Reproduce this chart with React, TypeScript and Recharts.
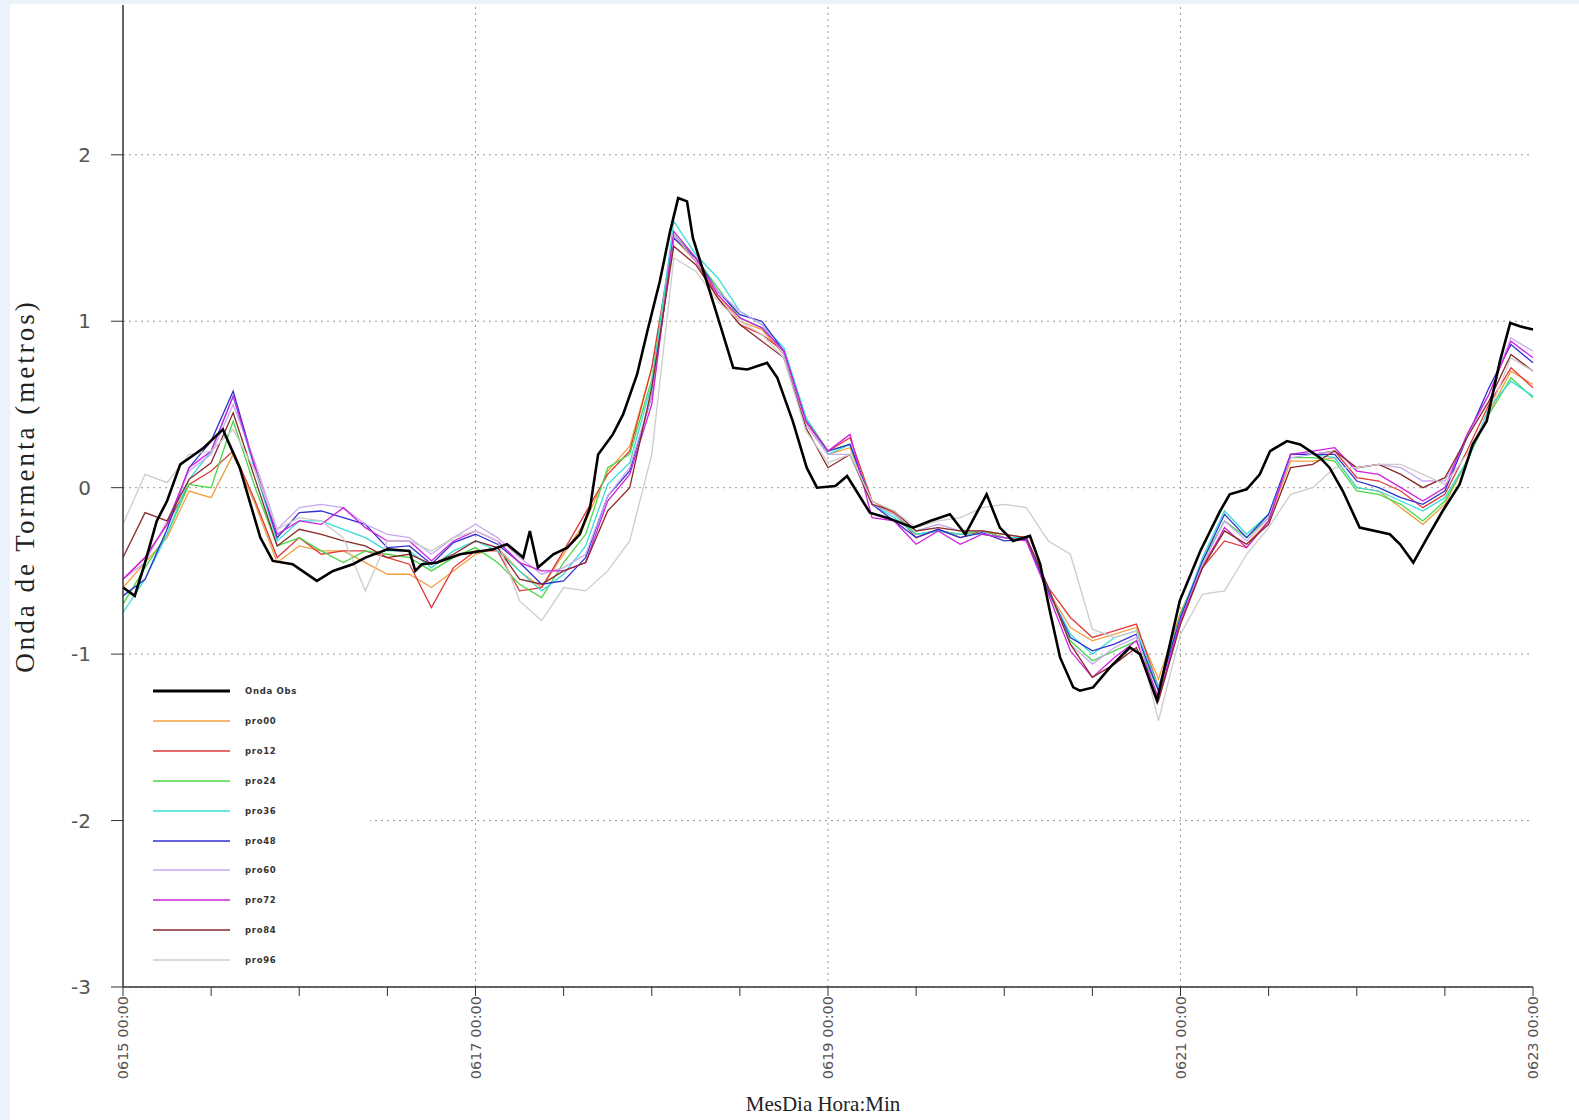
import { LineChart, Line, XAxis, YAxis, CartesianGrid, ReferenceLine } from 'recharts'

// hours since 0615 00:00
const hours = [
  0, 3, 6, 9, 12, 15, 18, 21, 24, 27, 30, 33, 36, 39, 42, 45, 48, 51, 54, 57, 60, 63, 66, 69, 72,
  75, 78, 81, 84, 87, 90, 93, 96, 99, 102, 105, 108, 111, 114, 117, 120, 123, 126, 129, 132, 135,
  138, 141, 144, 147, 150, 153, 156, 159, 162, 165, 168, 171, 174, 177, 180, 183, 186, 189, 192,
]

// [hora, metros]
const ondaObs: [number, number][] = [
  [0, -0.6], [1.6, -0.65], [3, -0.45], [4.6, -0.2], [6, -0.08], [7.8, 0.14], [9.1, 0.18], [11, 0.24],
  [13.6, 0.35], [15.9, 0.12], [18.7, -0.3], [20.4, -0.44], [23.1, -0.46], [26.4, -0.56], [28.6, -0.5],
  [31.3, -0.46], [33, -0.42], [36, -0.37], [39, -0.38], [39.8, -0.5], [40.7, -0.46], [42.8, -0.45],
  [45.9, -0.4], [50.4, -0.37], [52.3, -0.34], [54.5, -0.42], [55.4, -0.26], [56.5, -0.48], [58.6, -0.4],
  [60.5, -0.36], [62.2, -0.28], [63.6, -0.12], [64.7, 0.2], [66.7, 0.32], [68.1, 0.44], [70, 0.68],
  [71.4, 0.94], [73.1, 1.24], [74.5, 1.54], [75.6, 1.74], [76.8, 1.72], [77.6, 1.5], [79.9, 1.18],
  [81.3, 0.98], [83.1, 0.72], [85, 0.71], [87.7, 0.75], [89.1, 0.66], [91.2, 0.4], [93.1, 0.12],
  [94.5, 0.0], [97, 0.01], [98.6, 0.07], [101.7, -0.15], [104, -0.18], [107.6, -0.24], [109.9, -0.2],
  [112.6, -0.16], [114.7, -0.28], [117.6, -0.04], [119.4, -0.24], [121.2, -0.32], [123.5, -0.29],
  [124.9, -0.46], [126.2, -0.74], [127.6, -1.02], [129.4, -1.2], [130.3, -1.22], [132.1, -1.2],
  [134.4, -1.08], [137.1, -0.96], [138.5, -1.0], [140.8, -1.28], [143.9, -0.68], [146.7, -0.38],
  [149.4, -0.14], [150.7, -0.04], [153, -0.01], [154.8, 0.08], [156.2, 0.22], [158.5, 0.28],
  [160.3, 0.26], [163, 0.18], [164.3, 0.12], [166.1, -0.02], [168.4, -0.24], [172.5, -0.28],
  [173.9, -0.34], [175.7, -0.45], [177.6, -0.3], [179.7, -0.14], [182, 0.02], [183.8, 0.26],
  [185.7, 0.4], [187.5, 0.76], [188.9, 0.99], [190.2, 0.97], [192, 0.95],
]

const pro00 = [
  -0.6, -0.45, -0.3, -0.02, -0.06, 0.2, -0.1, -0.45, -0.35, -0.38, -0.38, -0.45, -0.52, -0.52, -0.6, -0.5,
  -0.4, -0.36, -0.5, -0.6, -0.4, -0.2, 0.1, 0.25, 0.72, 1.5, 1.36, 1.16, 1.0, 0.95, 0.8, 0.38, 0.2, 0.24,
  -0.1, -0.15, -0.28, -0.26, -0.28, -0.26, -0.28, -0.3, -0.62, -0.84, -0.92, -0.88, -0.84, -1.15, -0.75,
  -0.46, -0.26, -0.34, -0.2, 0.16, 0.16, 0.18, 0.0, -0.02, -0.12, -0.22, -0.1, 0.16, 0.45, 0.7, 0.62,
]
const pro12 = [
  -0.55, -0.42, -0.22, 0.02, 0.1, 0.22, -0.08, -0.42, -0.3, -0.4, -0.38, -0.38, -0.42, -0.46, -0.72, -0.48,
  -0.38, -0.38, -0.62, -0.6, -0.38, -0.15, 0.08, 0.22, 0.72, 1.52, 1.36, 1.14, 0.98, 0.92, 0.82, 0.4, 0.22,
  0.3, -0.08, -0.15, -0.3, -0.25, -0.3, -0.26, -0.3, -0.3, -0.6, -0.78, -0.9, -0.86, -0.82, -1.2, -0.76,
  -0.48, -0.32, -0.36, -0.2, 0.2, 0.2, 0.22, 0.06, 0.04, -0.02, -0.12, -0.04, 0.22, 0.5, 0.72, 0.6,
]
const pro24 = [
  -0.7, -0.48, -0.28, 0.02, 0.0, 0.4, 0.0, -0.35, -0.3, -0.38, -0.45, -0.38, -0.4, -0.42, -0.5, -0.42,
  -0.36, -0.45, -0.58, -0.66, -0.45, -0.28, 0.12, 0.2, 0.65, 1.52, 1.38, 1.2, 1.02, 0.96, 0.82, 0.42, 0.22,
  0.26, -0.1, -0.16, -0.28, -0.26, -0.28, -0.26, -0.3, -0.3, -0.62, -0.92, -1.04, -0.98, -0.92, -1.22,
  -0.76, -0.44, -0.2, -0.3, -0.18, 0.18, 0.18, 0.16, -0.02, -0.04, -0.1, -0.2, -0.08, 0.16, 0.44, 0.66, 0.54,
]
const pro36 = [
  -0.75, -0.55, -0.28, 0.05, 0.22, 0.55, 0.1, -0.32, -0.2, -0.2, -0.25, -0.3, -0.38, -0.38, -0.48, -0.38,
  -0.32, -0.38, -0.5, -0.62, -0.52, -0.35, 0.02, 0.15, 0.62, 1.6, 1.4, 1.26, 1.06, 0.98, 0.84, 0.42, 0.2,
  0.26, -0.1, -0.18, -0.28, -0.26, -0.28, -0.28, -0.3, -0.3, -0.62, -0.88, -1.0, -0.9, -0.86, -1.2, -0.78,
  -0.42, -0.14, -0.28, -0.16, 0.2, 0.2, 0.18, 0.0, -0.02, -0.08, -0.14, -0.06, 0.16, 0.48, 0.64, 0.55,
]
const pro48 = [
  -0.65, -0.55, -0.25, 0.12, 0.28, 0.58, 0.12, -0.3, -0.15, -0.14, -0.18, -0.22, -0.36, -0.35, -0.46, -0.33,
  -0.28, -0.34, -0.45, -0.58, -0.56, -0.42, -0.05, 0.1, 0.55, 1.5, 1.38, 1.18, 1.04, 1.0, 0.82, 0.4, 0.22,
  0.26, -0.1, -0.2, -0.3, -0.25, -0.3, -0.27, -0.32, -0.31, -0.62, -0.9, -0.98, -0.94, -0.88, -1.22, -0.78,
  -0.44, -0.16, -0.3, -0.16, 0.2, 0.2, 0.2, 0.04, 0.0, -0.06, -0.1, -0.02, 0.3, 0.6, 0.86, 0.75,
]
const pro60 = [
  -0.55, -0.45, -0.2, 0.1, 0.2, 0.5, 0.15, -0.25, -0.12, -0.1, -0.12, -0.22, -0.28, -0.3, -0.4, -0.3,
  -0.22, -0.3, -0.42, -0.52, -0.48, -0.4, -0.05, 0.12, 0.55, 1.52, 1.36, 1.18, 1.06, 0.98, 0.8, 0.38, 0.2,
  0.2, -0.1, -0.16, -0.26, -0.22, -0.26, -0.26, -0.28, -0.3, -0.6, -0.94, -1.06, -0.96, -0.9, -1.28, -0.8,
  -0.46, -0.2, -0.32, -0.18, 0.18, 0.2, 0.22, 0.12, 0.14, 0.12, 0.04, 0.04, 0.3, 0.56, 0.9, 0.82,
]
const pro72 = [
  -0.55, -0.42, -0.22, 0.12, 0.22, 0.55, 0.12, -0.28, -0.2, -0.22, -0.12, -0.24, -0.32, -0.32, -0.44, -0.32,
  -0.26, -0.32, -0.45, -0.5, -0.5, -0.45, -0.08, 0.08, 0.5, 1.54, 1.38, 1.16, 1.02, 0.96, 0.82, 0.4, 0.22,
  0.32, -0.18, -0.2, -0.34, -0.26, -0.34, -0.28, -0.3, -0.32, -0.64, -0.98, -1.14, -1.02, -0.92, -1.26, -0.8,
  -0.48, -0.24, -0.36, -0.2, 0.2, 0.22, 0.24, 0.1, 0.08, 0.0, -0.08, 0.0, 0.32, 0.56, 0.88, 0.78,
]
const pro84 = [
  -0.42, -0.15, -0.2, 0.05, 0.15, 0.45, 0.05, -0.35, -0.25, -0.28, -0.32, -0.35, -0.42, -0.4, -0.46, -0.4,
  -0.32, -0.36, -0.55, -0.58, -0.5, -0.45, -0.14, 0.0, 0.6, 1.45, 1.34, 1.14, 0.98, 0.88, 0.78, 0.36, 0.12,
  0.2, -0.1, -0.14, -0.26, -0.24, -0.26, -0.26, -0.28, -0.3, -0.6, -0.94, -1.14, -1.06, -0.96, -1.28, -0.82,
  -0.48, -0.26, -0.34, -0.22, 0.12, 0.14, 0.22, 0.12, 0.14, 0.08, 0.0, 0.06, 0.3, 0.52, 0.8, 0.7,
]
const pro96 = [
  -0.22, 0.08, 0.03, 0.2, 0.22, 0.35, 0.1, -0.25, -0.18, -0.2, -0.3, -0.62, -0.32, -0.32, -0.38, -0.3,
  -0.26, -0.32, -0.68, -0.8, -0.6, -0.62, -0.5, -0.32, 0.2, 1.38, 1.3, 1.12, 1.0, 0.92, 0.78, 0.34, 0.15,
  0.2, -0.08, -0.14, -0.24, -0.2, -0.18, -0.12, -0.1, -0.12, -0.32, -0.4, -0.85, -0.9, -0.86, -1.4, -0.88,
  -0.64, -0.62, -0.4, -0.24, -0.04, 0.0, 0.12, 0.12, 0.14, 0.14, 0.08, 0.02, 0.2, 0.45, 0.78, 0.7,
]

const seriesNames = ['pro00', 'pro12', 'pro24', 'pro36', 'pro48', 'pro60', 'pro72', 'pro84', 'pro96']
const seriesValues = [pro00, pro12, pro24, pro36, pro48, pro60, pro72, pro84, pro96]
const seriesColors = ['#f0a040', '#e03838', '#48d848', '#38dcd8', '#3030d0', '#c8a8f0', '#d020e0', '#8b2828', '#cccccc']

const xTicks = [0, 12, 24, 36, 48, 60, 72, 84, 96, 108, 120, 132, 144, 156, 168, 180, 192]
const xMajor = [0, 48, 96, 144, 192]
const xLabels = ['0615 00:00', '0617 00:00', '0619 00:00', '0621 00:00', '0623 00:00']
const yTicks = [-3, -2, -1, 0, 1, 2]

const forecastData = hours.map((h, i) => {
  const row: any = { h }
  seriesNames.forEach((n, k) => { row[n] = seriesValues[k][i] })
  return row
})
const obsData = ondaObs.map(([h, v]) => ({ h, v }))

const XTick = ({ x, y, payload }: any) => {
  const i = xMajor.indexOf(payload.value)
  if (i < 0) return null
  return (
    <text
      x={x}
      y={y}
      dy="0.35em"
      transform={`rotate(-90, ${x}, ${y})`}
      textAnchor="end"
      fontSize={14.5}
      fontFamily="DejaVu Sans, sans-serif"
      fill="#555"
    >
      {xLabels[i]}
    </text>
  )
}

export default function App() {
  const legendItems = [{ name: 'Onda Obs', color: '#000', width: 3 }].concat(
    seriesNames.map((n, k) => ({ name: n, color: seriesColors[k], width: 1.5 }))
  )

  return (
    <div style={{ position: 'absolute', left: 0, top: 0, width: 1579, height: 1120, background: '#eaf3fc' }}>
      <div style={{ position: 'absolute', left: 10, top: 4, width: 1569, height: 1116, background: '#fff' }} />
      <div style={{ position: 'absolute', left: 0, top: 0 }}>
        <LineChart
          width={1579}
          height={1120}
          data={forecastData}
          margin={{ top: 5, right: 46, left: 23, bottom: 33 }}
        >
          <CartesianGrid vertical={false} horizontalValues={yTicks} stroke="#999" strokeDasharray="2 4" />
          {[48, 96, 144].map((h) => (
            <ReferenceLine key={h} x={h} stroke="#999" strokeDasharray="2 4" />
          ))}
          <XAxis
            dataKey="h"
            type="number"
            domain={[0, 192]}
            ticks={xTicks}
            interval={0}
            height={100}
            tickSize={9}
            tickMargin={0}
            tick={<XTick />}
            axisLine={{ stroke: '#333', strokeWidth: 1.5 }}
            tickLine={{ stroke: '#333' }}
            label={() => (
              <text x={823} y={1111} textAnchor="middle" fontSize={21} fontFamily="Liberation Serif, serif" fill="#222">
                MesDia Hora:Min
              </text>
            )}
          />
          <YAxis
            type="number"
            domain={[-3, 2.9]}
            ticks={yTicks}
            interval={0}
            width={100}
            tickSize={12}
            tickMargin={20}
            allowDataOverflow
            tick={{ fontSize: 20, fill: '#555', fontFamily: 'DejaVu Sans, sans-serif' }}
            axisLine={{ stroke: '#333', strokeWidth: 1.5 }}
            tickLine={{ stroke: '#333' }}
            label={() => (
              <text
                x={34}
                y={486}
                transform="rotate(-90, 34, 486)"
                textAnchor="middle"
                fontSize={27}
                letterSpacing={3}
                fontFamily="Liberation Serif, serif"
                fill="#222"
              >
                Onda de Tormenta (metros)
              </text>
            )}
          />
          <YAxis
            yAxisId="right"
            orientation="right"
            width={0}
            domain={[-3, 2.9]}
            ticks={yTicks}
            tick={false}
            tickLine={false}
            axisLine={{ stroke: '#333', strokeWidth: 1.5 }}
          />
          {seriesNames.map((n, k) => (
            <Line
              key={n}
              type="linear"
              dataKey={n}
              stroke={seriesColors[k]}
              strokeWidth={1.3}
              dot={false}
              isAnimationActive={false}
            />
          ))}
          <Line
            data={obsData}
            type="linear"
            dataKey="v"
            stroke="#000"
            strokeWidth={2.6}
            dot={false}
            isAnimationActive={false}
          />
        </LineChart>
      </div>
      <div
        style={{
          position: 'absolute',
          left: 124,
          top: 668,
          width: 246,
          height: 312,
          background: '#fff',
        }}
      >
        {legendItems.map((it, i) => (
          <div
            key={it.name}
            style={{ position: 'absolute', left: 0, top: 23 + i * 29.9 - 10, height: 20, width: 246 }}
          >
            <svg width={246} height={20} style={{ position: 'absolute', left: 0, top: 0 }}>
              <line x1={29} x2={106} y1={10} y2={10} stroke={it.color} strokeWidth={it.width} />
              <text
                x={121}
                y={10}
                dy="0.35em"
                fontSize={8.5}
                fontWeight="bold"
                letterSpacing={0.7}
                fontFamily="DejaVu Sans, sans-serif"
                fill="#333"
              >
                {it.name}
              </text>
            </svg>
          </div>
        ))}
      </div>
    </div>
  )
}
